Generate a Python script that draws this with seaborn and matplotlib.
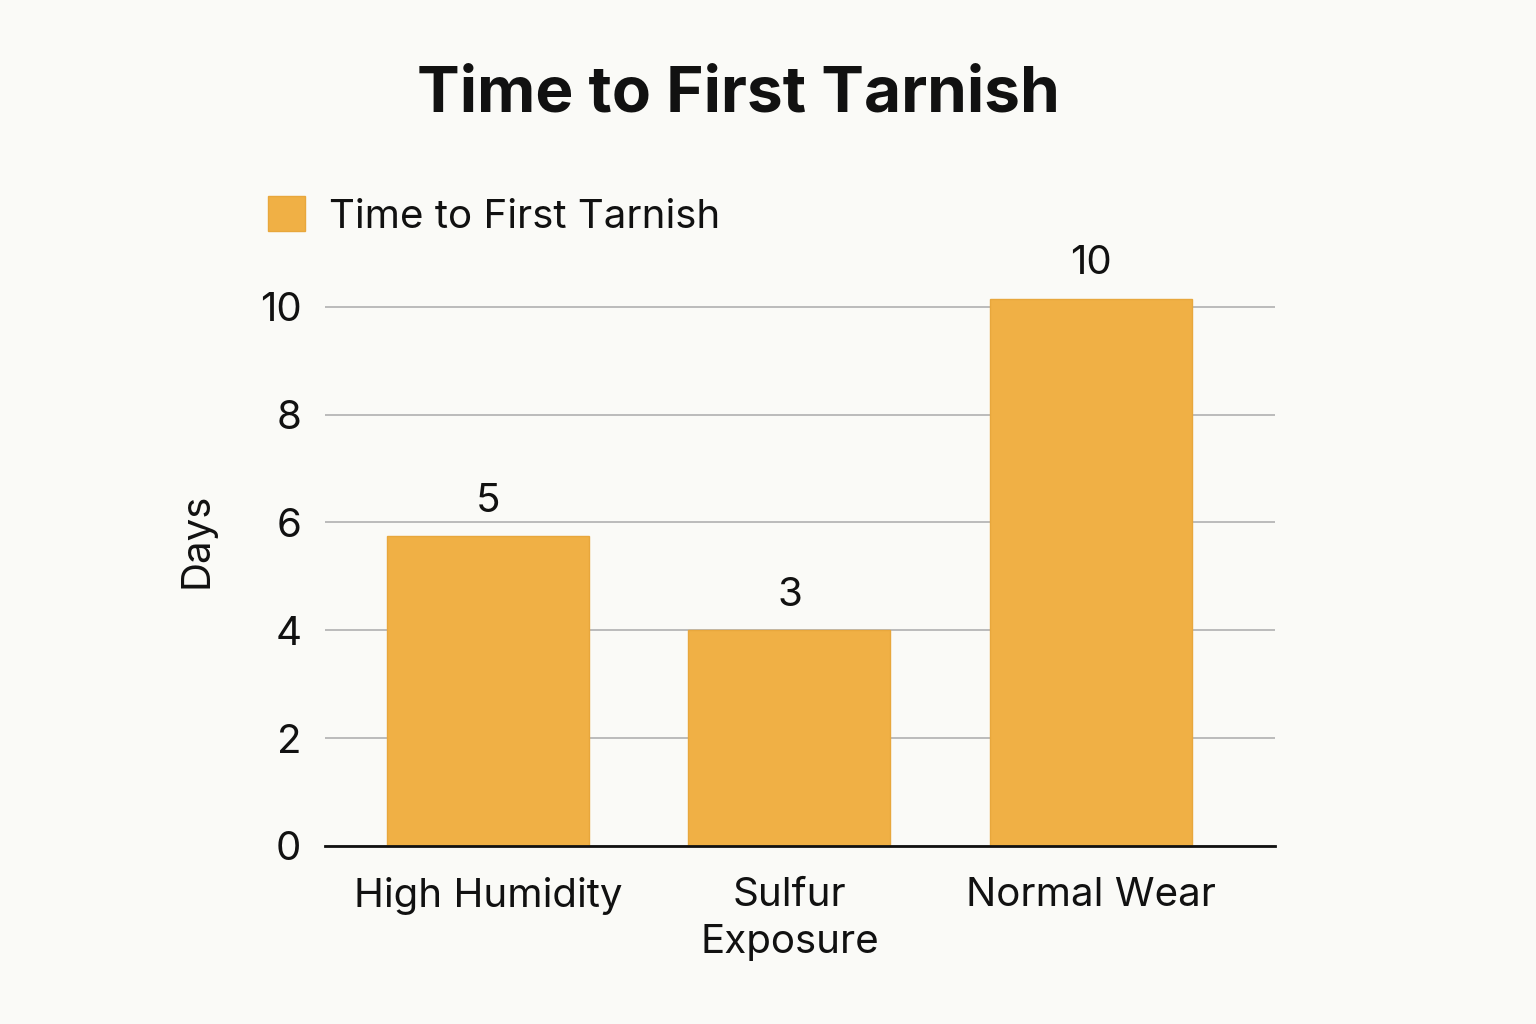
import matplotlib
matplotlib.use('Agg')
import matplotlib.pyplot as plt
import seaborn as sns
import pandas as pd
from matplotlib.patches import Patch

# values (bar heights) and the printed labels above them
categories = ['High Humidity', 'Sulfur\nExposure', 'Normal Wear']
heights = [5.75, 4.0, 10.15]
value_labels = ['5', '3', '10']
y_ticks = [0, 2, 4, 6, 8, 10]

df = pd.DataFrame({'condition': categories, 'days': heights})

bar_color = '#F0B045'
bg = '#FAFAF7'

sns.set_theme(style='white')
plt.rcParams['font.family'] = ['Inter', 'DejaVu Sans']

fig = plt.figure(figsize=(15.36, 10.24), dpi=100, facecolor=bg)
ax = fig.add_axes([325 / 1536, 1 - 846 / 1024, 950 / 1536, (846 - 269) / 1024])
ax.set_facecolor(bg)

sns.barplot(data=df, x='condition', y='days', color=bar_color, width=0.67,
            saturation=1, edgecolor='#E8A73C', linewidth=1, ax=ax, zorder=3)

ax.set_ylim(0, 10.7)
ax.set_xlim(-0.54, 2.61)
ax.set_yticks(y_ticks)
ax.yaxis.grid(True, color='#BBBBBB', linewidth=1.4, zorder=0)
ax.set_axisbelow(True)

for s in ['top', 'right', 'left']:
    ax.spines[s].set_visible(False)
ax.spines['bottom'].set_color('#111111')
ax.spines['bottom'].set_linewidth(2)
ax.spines['bottom'].set_zorder(4)

ax.tick_params(axis='both', length=0, labelsize=29, colors='#111111')
ax.tick_params(axis='y', pad=17)
ax.tick_params(axis='x', pad=22)
for t in ax.get_xticklabels():
    t.set_linespacing(1.35)
ax.set_xlabel('')
ax.set_ylabel('Days', fontsize=29, color='#111111')
ax.yaxis.set_label_coords(-0.115, 0.53)

for i, (h, lab) in enumerate(zip(heights, value_labels)):
    ax.text(i, h + 0.3, lab, ha='center', va='bottom', fontsize=29, color='#111111')

fig.text(738 / 1536, 1 - 95 / 1024, 'Time to First Tarnish', ha='center', va='center',
         fontsize=46, fontweight='bold', color='#111111')

leg = fig.legend(handles=[Patch(facecolor=bar_color, edgecolor='#E8A73C')],
                 labels=['Time to First Tarnish'], loc='center left',
                 bbox_to_anchor=(232 / 1536, 1 - 216 / 1024), frameon=False,
                 fontsize=29, handlelength=0.9, handleheight=0.95, handletextpad=0.6)
for t in leg.get_texts():
    t.set_color('#111111')

fig.savefig('out.png', dpi=100, facecolor=bg)
